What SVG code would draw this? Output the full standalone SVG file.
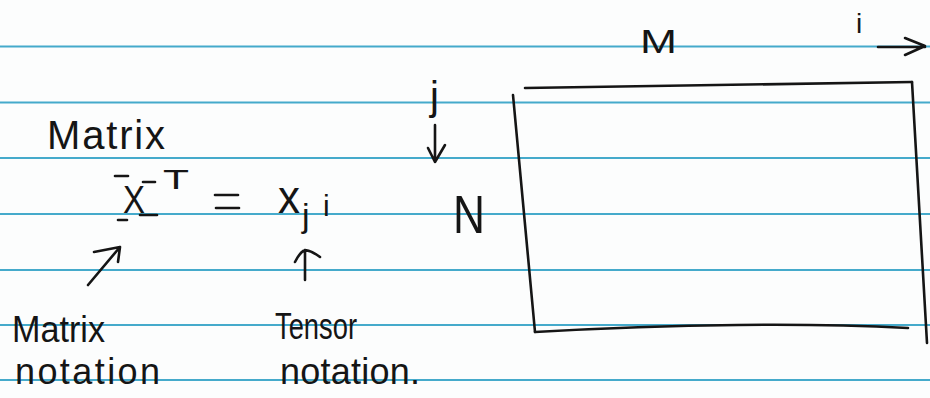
<svg xmlns="http://www.w3.org/2000/svg" width="930" height="398" viewBox="0 0 930 398">
  <style>
    .rule { stroke: #45aacb; stroke-width: 2; }
    .ink { fill: #151515; font-family: "Liberation Sans", "DejaVu Sans", sans-serif; }
    .pen { stroke: #151515; stroke-width: 2.6; fill: none; stroke-linecap: round; stroke-linejoin: round; }
  </style>
  <rect width="930" height="398" fill="#fcfdfd"/>
  <g id="paper-rules">
    <line class="rule" x1="0" y1="46.5" x2="930" y2="46.5"/>
    <line class="rule" x1="0" y1="102.5" x2="930" y2="102.5"/>
    <line class="rule" x1="0" y1="158" x2="930" y2="158"/>
    <line class="rule" x1="0" y1="214" x2="930" y2="214"/>
    <line class="rule" x1="0" y1="270" x2="930" y2="270"/>
    <line class="rule" x1="0" y1="325" x2="930" y2="325"/>
    <line class="rule" x1="0" y1="380" x2="930" y2="380"/>
  </g>

  <g id="matrix-title">
    <text class="ink" x="47" y="149" font-size="40" textLength="118" lengthAdjust="spacing">Matrix</text>
  </g>

  <g id="equation">
    <line class="pen" x1="115" y1="176" x2="128" y2="176"/>
    <text class="ink" x="123" y="213" font-size="38" textLength="22" lengthAdjust="spacingAndGlyphs">X</text>
    <line class="pen" x1="143" y1="182" x2="155" y2="182"/>
    <text class="ink" x="163" y="189" font-size="28" textLength="26" lengthAdjust="spacingAndGlyphs">T</text>
    <line class="pen" x1="118" y1="220" x2="127" y2="220"/>
    <line class="pen" x1="140" y1="215" x2="157" y2="215"/>
    <line class="pen" x1="215" y1="195" x2="238" y2="195"/>
    <line class="pen" x1="216" y1="208" x2="239" y2="208"/>
    <text class="ink" x="278" y="213" font-size="46" textLength="22" lengthAdjust="spacingAndGlyphs">x</text>
    <text class="ink" x="302" y="227" font-size="34">j</text>
    <text class="ink" x="323" y="216" font-size="30">i</text>
  </g>

  <g id="connectors">
    <path class="pen" d="M88 285 L120 247 M94 252 L120 247 L118 262"/>
    <path class="pen" d="M305 280 L305 250 M295 262 Q300 252 305 250 Q312 251 320 257"/>
    <path class="pen" d="M435 125 L435 162 M428 148 L435 162 L445 145"/>
    <path class="pen" d="M878 47 L925 47 M905 38 L925 46 L905 55"/>
  </g>

  <g id="label-matrix-notation">
    <text class="ink" x="12" y="342" font-size="36" textLength="93" lengthAdjust="spacingAndGlyphs">Matrix</text>
    <text class="ink" x="15" y="384" font-size="36" textLength="145" lengthAdjust="spacing">notation</text>
  </g>

  <g id="label-tensor-notation">
    <text class="ink" x="275" y="339" font-size="36" textLength="82" lengthAdjust="spacingAndGlyphs">Tensor</text>
    <text class="ink" x="280" y="384" font-size="36" textLength="140" lengthAdjust="spacing">notation.</text>
  </g>

  <g id="matrix-box">
    <path class="pen" d="M525 88 L912 82"/>
    <path class="pen" d="M513 95 L535 332"/>
    <path class="pen" d="M912 82 L927 343"/>
    <path class="pen" d="M535 332 Q640 326 738 325 Q830 324 908 328"/>
    <text class="ink" x="640" y="53" font-size="34" textLength="37" lengthAdjust="spacingAndGlyphs">M</text>
    <text class="ink" x="856" y="33" font-size="28">i</text>
    <text class="ink" x="430" y="110" font-size="40">j</text>
    <text class="ink" x="453" y="233" font-size="54" textLength="32" lengthAdjust="spacingAndGlyphs">N</text>
  </g>
</svg>
